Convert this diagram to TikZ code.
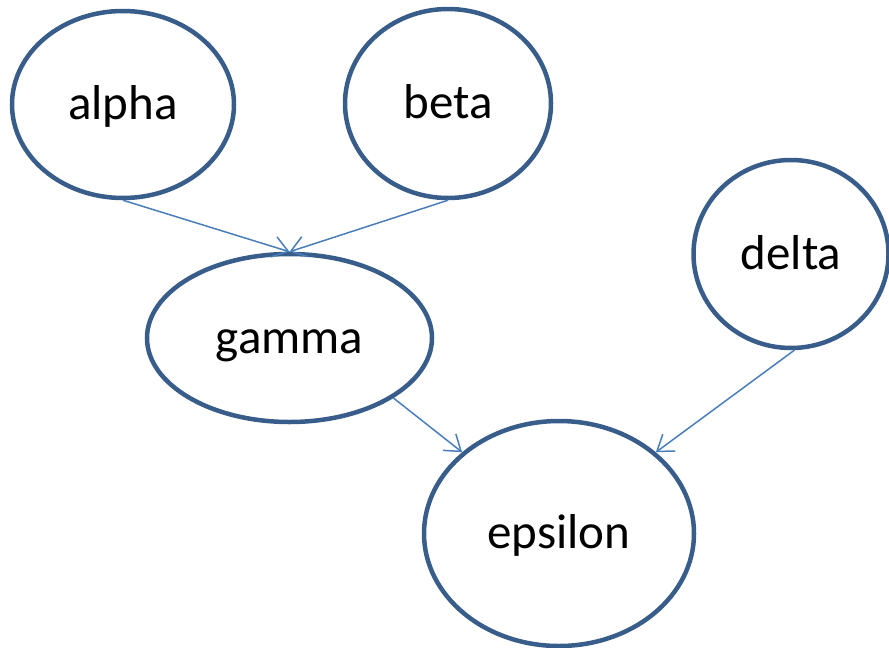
\documentclass[tikz,border=0pt]{standalone}
\usepackage{fontspec}
\setmainfont{Carlito}
\usetikzlibrary{shapes.geometric,arrows.meta}
\definecolor{rimblue}{HTML}{385D8A}
\definecolor{linkblue}{HTML}{4A7EBB}
\tikzset{
  bubble/.style={ellipse, draw=rimblue, line width=4.5pt, fill=white, inner sep=0pt,
    text height=34pt, text depth=4pt, font=\fontsize{49}{56}\selectfont},
  link/.style={draw=linkblue, line width=1.5pt,
    -{Straight Barb[length=15pt,width=21pt,line width=1.5pt]}}
}
\begin{document}
\begin{tikzpicture}[x=1pt, y=-1pt]
   \useasboundingbox (0,0) rectangle (889,648);
   \node[bubble, minimum width=222pt, minimum height=187pt] (alpha) at (123,104.5) {alpha};
   \node[bubble, minimum width=206pt, minimum height=189pt] (beta) at (448,103.5) {beta};
   \node[bubble, minimum width=285pt, minimum height=168pt] (gamma) at (289.5,338) {gamma};
   \node[bubble, minimum width=195pt, minimum height=188pt] (delta) at (791,254) {delta};
   \node[bubble, minimum width=270pt, minimum height=225pt] (epsilon) at (559,533.5) {epsilon};
   \draw[link] (alpha.south) -- (gamma.north);
   \draw[link] (beta.south) -- (gamma.north);
   \draw[link] (gamma.-30) -- (epsilon.140);
   \draw[link] (delta.-88) -- (epsilon.40);
  \end{tikzpicture}
\end{document}
